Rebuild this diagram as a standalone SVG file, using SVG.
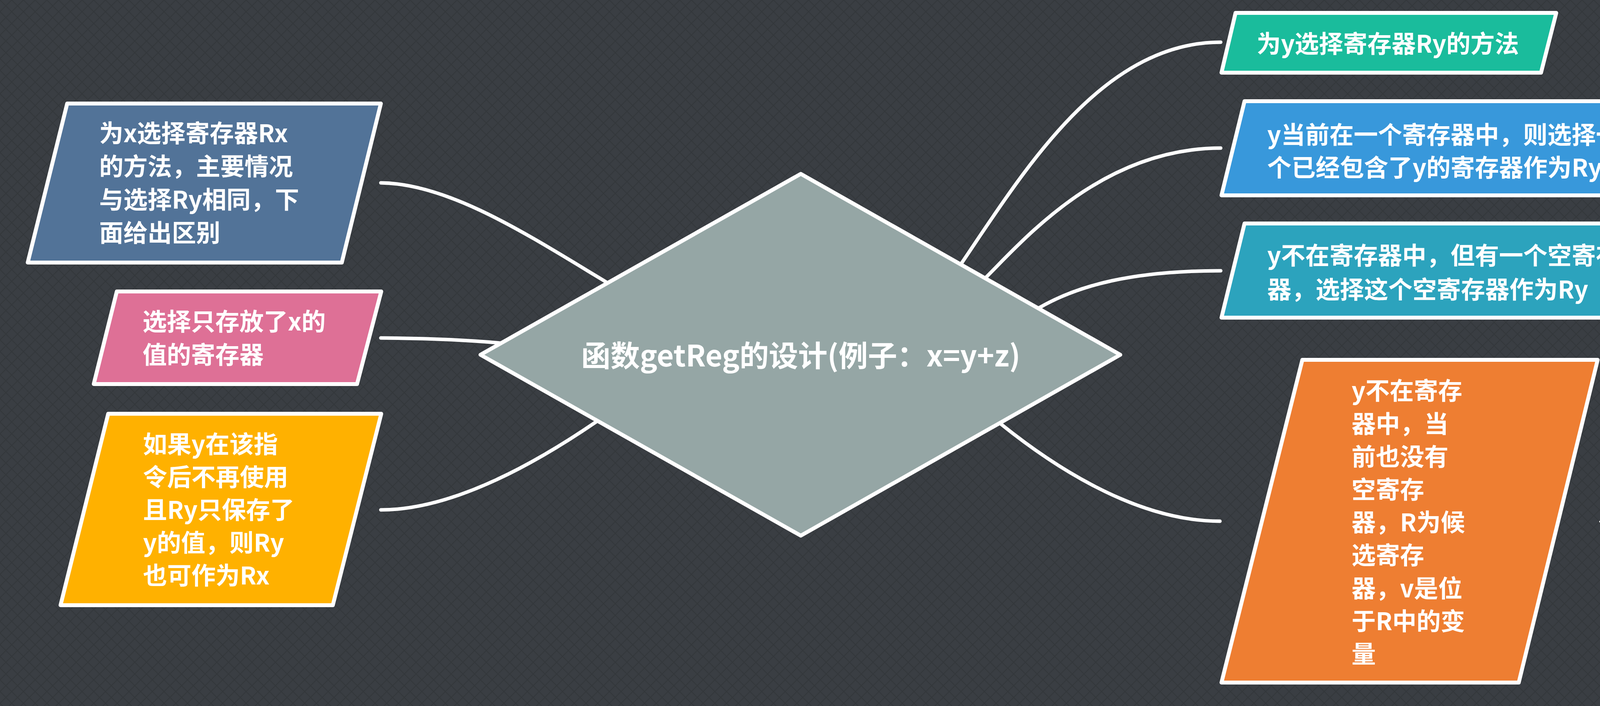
<svg xmlns="http://www.w3.org/2000/svg" width="5230" height="1807" viewBox="0 0 5230 1807">
<defs>
<pattern id="bgp" width="30" height="30" patternUnits="userSpaceOnUse">
<rect width="30" height="30" fill="#3a3e43"/>
<path d="M0,0 L30,30 M30,0 L0,30" stroke="#34383c" stroke-width="2.5" fill="none"/>
</pattern>
</defs>
<style>
.box{stroke:#ffffff;stroke-width:10;stroke-linejoin:round}
.con{fill:none;stroke:#ffffff;stroke-width:9;stroke-linecap:round}
.brk{fill:none;stroke:#ffffff;stroke-width:3.5}
.t{font-family:"Noto Sans CJK SC","Noto Sans",sans-serif;font-weight:bold;fill:#ffffff}
.t62{font-size:62px}
.t56{font-size:56px}
.t75{font-size:75px}
</style>
<rect width="5230" height="1807" fill="url(#bgp)"/>
<g id="connectors">
<path class="con" d="M975,468 C1150,470 1350,600 1552,722"/>
<path class="con" d="M975,865 C1100,866 1200,870 1290,879"/>
<path class="con" d="M975,1305 C1150,1305 1350,1200 1527,1079"/>
<path class="con" d="M3125,108 C2820,108 2620,440 2460,676"/>
<path class="con" d="M3125,379 C2820,379 2620,615 2522,712"/>
<path class="con" d="M3125,693 C2900,693 2760,730 2660,788"/>
<path class="con" d="M2562,1085 C2680,1180 2900,1334 3123,1334"/>
<path class="brk" d="M4094,1335 L4119,1335 L4170,972 L4200,972 M4119,1335 L4170,1161 L4200,1161 M4119,1335 L4170,1350 L4200,1350 M4119,1335 L4170,1619 L4200,1619"/>
</g>
<g id="center">
<polygon class="box" fill="#95a6a5" points="2050,445 2868,908 2050,1371 1230,908"/>
<text class="t t75" x="2050" y="938" text-anchor="middle">函数getReg的设计(例子：x=y+z)</text>
</g>
<g id="left1">
<polygon class="box" fill="#527398" points="172,265 975,265 875,672 71,672"/>
<text class="t t62" x="254" y="364">为x选择寄存器Rx</text>
<text class="t t62" x="254" y="449">的方法，主要情况</text>
<text class="t t62" x="254" y="534">与选择Ry相同，下</text>
<text class="t t62" x="254" y="619">面给出区别</text>
</g>
<g id="left2">
<polygon class="box" fill="#de7096" points="299,746 976,746 914,983 240,983"/>
<text class="t t62" x="365" y="846">选择只存放了x的</text>
<text class="t t62" x="365" y="931">值的寄存器</text>
</g>
<g id="left3">
<polygon class="box" fill="#ffb100" points="277,1059 976,1059 852,1549 155,1549"/>
<text class="t t62" x="366" y="1160">如果y在该指</text>
<text class="t t62" x="366" y="1244">令后不再使用</text>
<text class="t t62" x="366" y="1328">且Ry只保存了</text>
<text class="t t62" x="366" y="1412">y的值，则Ry</text>
<text class="t t62" x="366" y="1496">也可作为Rx</text>
</g>
<g id="right1">
<polygon class="box" fill="#1abc9c" points="3163,33 3984,33 3945,186 3127,186"/>
<text class="t t62" x="3217" y="135">为y选择寄存器Ry的方法</text>
</g>
<g id="right2">
<polygon class="box" fill="#3898db" points="3186,259 4326,259 4267,500 3127,500"/>
<text class="t t62" x="3244" y="368">y当前在一个寄存器中，则选择一</text>
<text class="t t62" x="3244" y="452">个已经包含了y的寄存器作为Ry</text>
</g>
<g id="right3">
<polygon class="box" fill="#2ca3bd" points="3186,572 4337,572 4278,813 3127,813"/>
<text class="t t62" x="3244" y="677">y不在寄存器中，但有一个空寄存</text>
<text class="t t62" x="3244" y="764">器，选择这个空寄存器作为Ry</text>
</g>
<g id="right4">
<polygon class="box" fill="#ee7e32" points="3334,921 4090,921 3888,1747 3127,1747"/>
<text class="t t62" x="3460" y="1023">y不在寄存</text>
<text class="t t62" x="3460" y="1108">器中，当</text>
<text class="t t62" x="3460" y="1192">前也没有</text>
<text class="t t62" x="3460" y="1276">空寄存</text>
<text class="t t62" x="3460" y="1360">器，R为候</text>
<text class="t t62" x="3460" y="1444">选寄存</text>
<text class="t t62" x="3460" y="1529">器，v是位</text>
<text class="t t62" x="3460" y="1613">于R中的变</text>
<text class="t t62" x="3460" y="1697">量</text>
</g>
<g id="sub1">
<text class="t t56" x="4242" y="956">v还保存在R之外的其它地方，</text>
<text class="t t56" x="4242" y="1033">则可将y替换v</text>
</g>
<g id="sub2">
<text class="t t56" x="4242" y="1146">v是x，且x不是z，则可</text>
<text class="t t56" x="4242" y="1222">将y替换x</text>
</g>
<g id="sub3">
<text class="t t56" x="4242" y="1338">v不会在此之后被使用，</text>
<text class="t t56" x="4242" y="1414">则可将y替换x</text>
</g>
<g id="sub4">
<text class="t t56" x="4242" y="1527">前三个条件不满足，用ST v,R将v复</text>
<text class="t t56" x="4242" y="1603">制到自己的内存位置上，由于R可能</text>
<text class="t t56" x="4242" y="1680">存放多个变量，我们选择需要复制</text>
<text class="t t56" x="4242" y="1756">最少次数的寄存器R</text>
</g>
</svg>
